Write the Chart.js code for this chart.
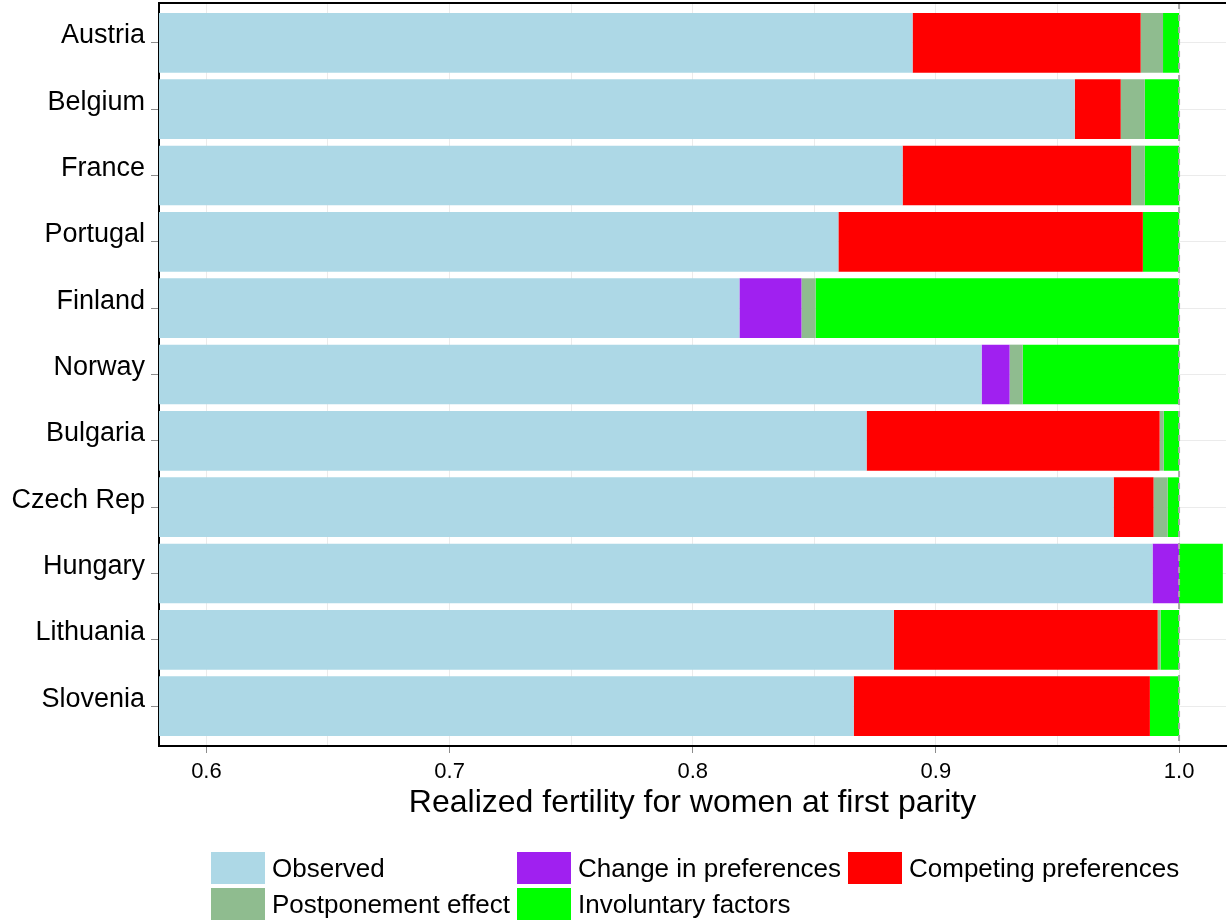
<!DOCTYPE html>
<html>
<head>
<meta charset="utf-8">
<script src="https://cdn.jsdelivr.net/npm/chart.js@4/dist/chart.umd.min.js"></script>
<style>
  body { margin: 0; background: #fff; }
  #wrap { position: relative; width: 1227px; height: 923px; }
  #legend { position: absolute; left: 0; top: 0; font-family: "Liberation Sans", Arial, sans-serif; font-size: 26px; color: #000; }
  .item { position: absolute; height: 32px; display: flex; align-items: center; white-space: nowrap; }
  .swatch { width: 54px; height: 32px; margin-right: 7px; }
</style>
</head>
<body>
<div id="wrap">
  <canvas id="chart" width="1227" height="923"></canvas>
  <div id="legend"></div>
</div>
<script>
const countries = ['Austria', 'Belgium', 'France', 'Portugal', 'Finland', 'Norway',
                   'Bulgaria', 'Czech Rep', 'Hungary', 'Lithuania', 'Slovenia'];

const observed    = [0.8904, 0.9571, 0.8863, 0.8599, 0.8192, 0.9188, 0.8715, 0.9731, 0.9891, 0.8827, 0.8662];
const changePref  = [0,      0,      0,      0,      0.0255, 0.0115, 0,      0,      0.0109, 0,      0];
const competing   = [0.0938, 0.0189, 0.0940, 0.1252, 0,      0,      0.1205, 0.0164, 0,      0.1085, 0.1218];
const postponed   = [0.0092, 0.0099, 0.0056, 0,      0.0058, 0.0054, 0.0017, 0.0058, 0,      0.0012, 0];
const involuntary = [0.0066, 0.0141, 0.0141, 0.0149, 0.1495, 0.0643, 0.0063, 0.0047, 0.0180, 0.0076, 0.0120];

const seriesNames  = ['Observed', 'Change in preferences', 'Competing preferences', 'Postponement effect', 'Involuntary factors'];
const seriesColors = ['#ADD8E6', '#A020F0', '#FF0000', '#8FBC8F', '#00FF00'];
const seriesValues = [observed, changePref, competing, postponed, involuntary];

const referenceValue = 1.0;

Chart.defaults.font.family = '"Liberation Sans", Arial, sans-serif';
Chart.defaults.color = '#000';

// dashed line at 1.0 and the top panel border
const refLine = {
  id: 'refLine',
  afterDatasetsDraw(chart) {
    const { ctx, chartArea, scales: { x } } = chart;
    const px = x.getPixelForValue(referenceValue);
    ctx.save();
    ctx.strokeStyle = '#a8a8a8';
    ctx.lineWidth = 2;
    ctx.setLineDash([6, 6]);
    ctx.beginPath();
    ctx.moveTo(px, chartArea.top);
    ctx.lineTo(px, chartArea.bottom);
    ctx.stroke();
    ctx.setLineDash([]);
    ctx.strokeStyle = '#000';
    ctx.beginPath();
    ctx.moveTo(chartArea.left, chartArea.top);
    ctx.lineTo(chartArea.right, chartArea.top);
    ctx.stroke();
    ctx.restore();
  }
};

const datasets = seriesNames.map((name, k) => ({
  label: name,
  data: seriesValues[k].map((v, i) => ({ x: v, y: i })),
  backgroundColor: seriesColors[k],
  borderWidth: 0,
  categoryPercentage: 0.9,
  barPercentage: 1.0
}));

new Chart(document.getElementById('chart'), {
  type: 'bar',
  data: { datasets: datasets },
  plugins: [refLine],
  options: {
    responsive: false,
    animation: false,
    indexAxis: 'y',
    layout: { padding: { top: 3, right: 1, left: 0, bottom: 93 } },
    plugins: { legend: { display: false }, tooltip: { enabled: false } },
    scales: {
      x: {
        type: 'linear',
        stacked: true,
        min: 0.5805,
        max: 1.0193,
        afterFit: s => { s.height = 84; },
        border: { color: '#000', width: 2 },
        grid: {
          color: '#ebebeb',
          lineWidth: 1,
          tickLength: 7,
          tickColor: c => (Math.round(c.tick.value * 100) % 10 === 0 ? '#8c8c8c' : 'rgba(0,0,0,0)')
        },
        ticks: {
          stepSize: 0.05,
          includeBounds: false,
          autoSkip: false,
          maxRotation: 0,
          padding: 6,
          font: { size: 22 },
          callback: v => (Math.round(v * 100) % 10 === 0 ? v.toFixed(1) : '')
        },
        title: {
          display: true,
          text: 'Realized fertility for women at first parity',
          font: { size: 32 },
          padding: { top: 0, bottom: 8 }
        }
      },
      y: {
        type: 'linear',
        stacked: true,
        reverse: true,
        offset: false,
        min: -0.6,
        max: countries.length - 0.4,
        afterFit: s => { s.width = 159; s.paddingTop = 0; s.paddingBottom = 0; },
        afterBuildTicks: s => { s.ticks = countries.map((c, i) => ({ value: i })); },
        border: { color: '#000', width: 2 },
        grid: { offset: false, color: '#ebebeb', lineWidth: 1, tickLength: 8, tickColor: '#8c8c8c' },
        ticks: {
          autoSkip: false,
          padding: 6,
          labelOffset: -7,
          font: { size: 27 },
          callback: v => countries[v]
        }
      }
    }
  }
});

// legend: three columns, two rows
const legendPos = [[211, 852], [517, 852], [848, 852], [211, 888], [517, 888]];
const legend = document.getElementById('legend');
seriesNames.forEach((name, k) => {
  const item = document.createElement('div');
  item.className = 'item';
  item.style.left = legendPos[k][0] + 'px';
  item.style.top = legendPos[k][1] + 'px';
  item.innerHTML = '<div class="swatch" style="background:' + seriesColors[k] + '"></div><span>' + name + '</span>';
  legend.appendChild(item);
});
</script>
</body>
</html>
